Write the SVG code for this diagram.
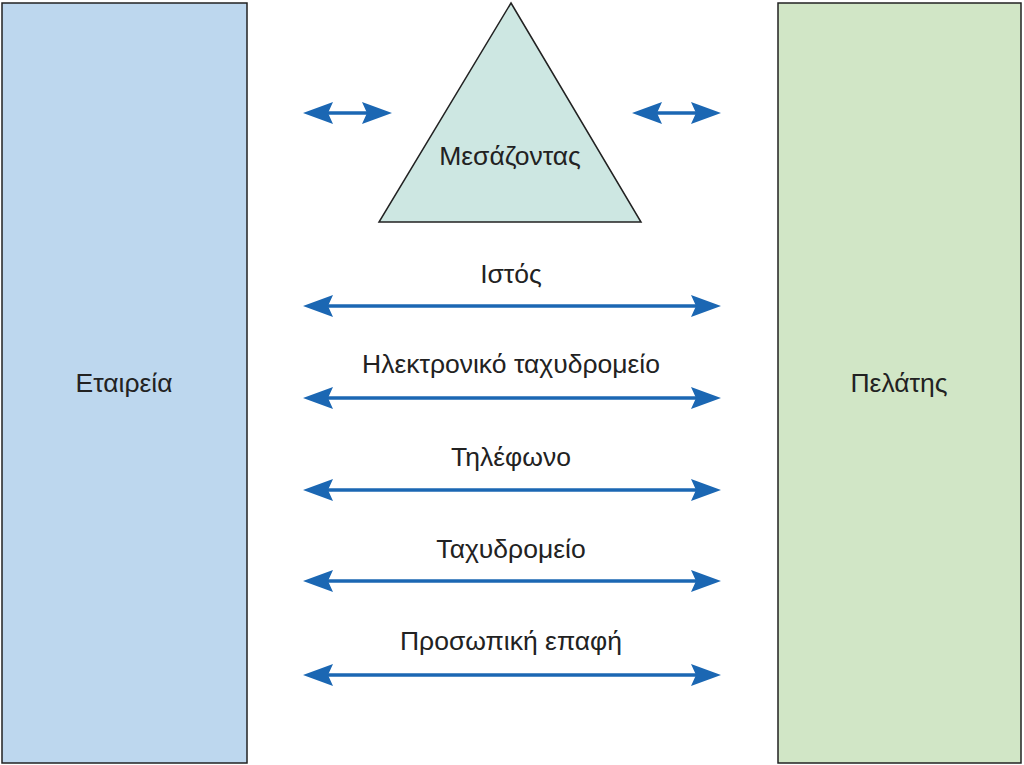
<svg xmlns="http://www.w3.org/2000/svg" width="1024" height="765" viewBox="0 0 1024 765">
<style>
text{font-family:"Liberation Sans",Arial,sans-serif;font-size:26.5px;fill:#222;text-anchor:middle}
.box{stroke:#222;stroke-width:1.5}
.ln{stroke:#1b67b3;stroke-width:3.5;fill:none}
.hd{fill:#1b67b3}
</style>
<defs>
<path id="ah" d="M0,0 L30,-11 L25,0 L30,11 Z"/>
</defs>
<g id="company"><rect class="box" x="2" y="3" width="245" height="760" fill="#bdd7ee"/><text x="124" y="392">Εταιρεία</text></g>
<g id="customer"><rect class="box" x="778" y="3" width="243" height="760" fill="#d1e6c6"/><text x="899" y="392">Πελάτης</text></g>
<g id="intermediary"><polygon class="box" points="511,3 641,222 379,222" fill="#cde7e2"/><text x="510" y="165">Μεσάζοντας</text></g>
<g id="connectors">
<g transform="translate(0,113)"><line class="ln" x1="315" y1="0" x2="380" y2="0"/><use class="hd" href="#ah" transform="translate(303,0)"/><use class="hd" href="#ah" transform="translate(392,0) scale(-1,1)"/></g>
<g transform="translate(0,113)"><line class="ln" x1="644" y1="0" x2="709" y2="0"/><use class="hd" href="#ah" transform="translate(632,0)"/><use class="hd" href="#ah" transform="translate(721,0) scale(-1,1)"/></g>
<g transform="translate(0,306)"><line class="ln" x1="315" y1="0" x2="709" y2="0"/><use class="hd" href="#ah" transform="translate(303,0)"/><use class="hd" href="#ah" transform="translate(721,0) scale(-1,1)"/></g>
<g transform="translate(0,398)"><line class="ln" x1="315" y1="0" x2="709" y2="0"/><use class="hd" href="#ah" transform="translate(303,0)"/><use class="hd" href="#ah" transform="translate(721,0) scale(-1,1)"/></g>
<g transform="translate(0,490)"><line class="ln" x1="315" y1="0" x2="709" y2="0"/><use class="hd" href="#ah" transform="translate(303,0)"/><use class="hd" href="#ah" transform="translate(721,0) scale(-1,1)"/></g>
<g transform="translate(0,581)"><line class="ln" x1="315" y1="0" x2="709" y2="0"/><use class="hd" href="#ah" transform="translate(303,0)"/><use class="hd" href="#ah" transform="translate(721,0) scale(-1,1)"/></g>
<g transform="translate(0,675)"><line class="ln" x1="315" y1="0" x2="709" y2="0"/><use class="hd" href="#ah" transform="translate(303,0)"/><use class="hd" href="#ah" transform="translate(721,0) scale(-1,1)"/></g>
<text x="511" y="283">Ιστός</text>
<text x="511" y="373">Ηλεκτρονικό ταχυδρομείο</text>
<text x="511" y="466">Τηλέφωνο</text>
<text x="511" y="558">Ταχυδρομείο</text>
<text x="511" y="650">Προσωπική επαφή</text>
</g>
</svg>
